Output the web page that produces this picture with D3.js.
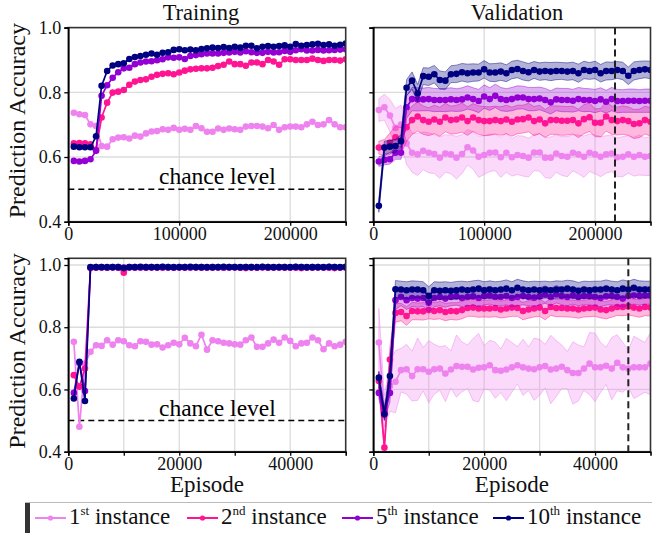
<!DOCTYPE html>
<html>
<head>
<meta charset="utf-8">
<script src="https://cdn.jsdelivr.net/npm/d3@7"></script>
<style>
  body { margin: 0; background: #fff; }
  svg, svg text { font-family: "Liberation Serif", "Times New Roman", serif; }
</style>
</head>
<body>
<svg id="chart" width="652" height="533"></svg>
<script>
// series order: 1st, 2nd, 5th, 10th instance
var seriesNames = ["1", "2", "5", "10"];
var seriesSup = ["st", "nd", "th", "th"];
var seriesColors = ["violet", "deeppink", "darkviolet", "navy"];

var longEpisodes = d3.range(5000, 250001, 5000);
var shortEpisodes = d3.range(1000, 50001, 1000);

// training, long run (top left)
var trainLong1 = [0.737,0.732,0.730,0.701,0.696,0.634,0.632,0.655,0.660,0.661,0.657,0.666,0.663,0.673,0.679,0.680,0.686,0.684,0.690,0.684,0.687,0.684,0.696,0.689,0.678,0.678,0.688,0.684,0.688,0.686,0.684,0.694,0.696,0.696,0.694,0.689,0.699,0.684,0.692,0.694,0.694,0.692,0.701,0.709,0.699,0.701,0.714,0.701,0.692,0.692];
var trainLong2 = [0.642,0.643,0.642,0.639,0.622,0.722,0.768,0.799,0.802,0.807,0.823,0.833,0.838,0.840,0.848,0.854,0.857,0.859,0.856,0.861,0.867,0.871,0.873,0.874,0.874,0.876,0.881,0.885,0.895,0.887,0.887,0.882,0.892,0.892,0.887,0.900,0.895,0.885,0.902,0.902,0.900,0.900,0.900,0.904,0.900,0.897,0.900,0.900,0.898,0.902];
var trainLong5 = [0.588,0.586,0.588,0.593,0.619,0.789,0.822,0.845,0.862,0.874,0.876,0.887,0.892,0.895,0.896,0.899,0.902,0.908,0.907,0.908,0.903,0.912,0.915,0.918,0.920,0.920,0.920,0.922,0.923,0.925,0.923,0.927,0.924,0.922,0.922,0.925,0.923,0.924,0.928,0.925,0.930,0.933,0.929,0.929,0.931,0.929,0.930,0.931,0.932,0.933];
var trainLong10 = [0.632,0.630,0.630,0.630,0.664,0.820,0.866,0.883,0.887,0.890,0.903,0.909,0.912,0.916,0.920,0.916,0.922,0.924,0.931,0.933,0.930,0.932,0.930,0.934,0.936,0.938,0.937,0.940,0.937,0.941,0.938,0.944,0.944,0.936,0.941,0.943,0.941,0.943,0.945,0.941,0.949,0.944,0.946,0.948,0.950,0.946,0.948,0.944,0.947,0.951];

// validation, long run (top right), mean and spread
var valLong1 = [0.745,0.754,0.728,0.690,0.700,0.642,0.613,0.608,0.619,0.613,0.609,0.598,0.611,0.608,0.598,0.609,0.630,0.620,0.601,0.606,0.613,0.614,0.599,0.613,0.599,0.606,0.603,0.598,0.614,0.614,0.598,0.598,0.611,0.603,0.601,0.613,0.608,0.601,0.613,0.608,0.601,0.608,0.611,0.599,0.601,0.608,0.601,0.606,0.601,0.603];
var valLong2 = [0.629,0.629,0.644,0.661,0.650,0.692,0.714,0.725,0.714,0.709,0.716,0.709,0.722,0.714,0.716,0.722,0.711,0.722,0.714,0.711,0.711,0.714,0.711,0.716,0.709,0.716,0.717,0.722,0.711,0.716,0.704,0.714,0.714,0.712,0.712,0.714,0.704,0.717,0.723,0.706,0.706,0.725,0.714,0.711,0.714,0.711,0.702,0.704,0.714,0.709];
var valLong5 = [0.586,0.591,0.593,0.613,0.613,0.754,0.779,0.778,0.778,0.779,0.776,0.776,0.776,0.778,0.776,0.778,0.784,0.779,0.773,0.787,0.779,0.789,0.779,0.776,0.779,0.784,0.784,0.779,0.779,0.781,0.776,0.769,0.778,0.776,0.776,0.774,0.779,0.776,0.776,0.773,0.778,0.771,0.779,0.773,0.773,0.774,0.774,0.773,0.774,0.774];
var valLong10 = [0.449,0.629,0.632,0.634,0.649,0.814,0.836,0.797,0.850,0.848,0.856,0.838,0.836,0.856,0.857,0.862,0.859,0.861,0.861,0.871,0.861,0.861,0.864,0.859,0.869,0.872,0.866,0.862,0.869,0.864,0.866,0.864,0.866,0.866,0.864,0.866,0.859,0.869,0.866,0.869,0.859,0.866,0.866,0.869,0.866,0.851,0.866,0.869,0.871,0.869];
var valLongStd1 = [0.035,0.040,0.050,0.060,0.060,0.065,0.060,0.065,0.058,0.062,0.060,0.064,0.058,0.060,0.066,0.060,0.055,0.058,0.064,0.060,0.058,0.056,0.062,0.060,0.058,0.060,0.062,0.060,0.056,0.058,0.062,0.064,0.058,0.060,0.062,0.056,0.060,0.064,0.058,0.060,0.062,0.058,0.056,0.060,0.062,0.058,0.060,0.062,0.058,0.060];
var valLongStd2 = [0.020,0.025,0.030,0.035,0.040,0.044,0.044,0.045,0.044,0.043,0.044,0.045,0.044,0.043,0.044,0.045,0.044,0.043,0.044,0.045,0.044,0.043,0.044,0.044,0.045,0.044,0.043,0.044,0.045,0.044,0.043,0.044,0.044,0.045,0.044,0.043,0.044,0.045,0.044,0.043,0.044,0.045,0.044,0.043,0.044,0.044,0.045,0.044,0.043,0.044];
var valLongStd5 = [0.015,0.015,0.015,0.020,0.020,0.035,0.036,0.036,0.035,0.036,0.036,0.035,0.036,0.036,0.035,0.036,0.036,0.035,0.036,0.036,0.035,0.036,0.036,0.035,0.036,0.036,0.035,0.036,0.036,0.035,0.036,0.036,0.035,0.036,0.036,0.035,0.036,0.036,0.035,0.036,0.036,0.035,0.036,0.036,0.035,0.036,0.036,0.035,0.036,0.036];
var valLongStd10 = [0.020,0.020,0.020,0.020,0.020,0.025,0.027,0.027,0.026,0.027,0.027,0.028,0.027,0.026,0.027,0.027,0.028,0.027,0.026,0.027,0.027,0.028,0.027,0.026,0.027,0.027,0.028,0.027,0.026,0.027,0.027,0.028,0.027,0.026,0.027,0.027,0.028,0.027,0.026,0.027,0.027,0.028,0.027,0.026,0.027,0.027,0.028,0.027,0.026,0.027];

// training, short run (bottom left)
var trainShort1 = [0.753,0.480,0.683,0.721,0.742,0.740,0.758,0.744,0.758,0.755,0.742,0.739,0.755,0.753,0.744,0.745,0.735,0.742,0.750,0.745,0.766,0.748,0.739,0.776,0.728,0.758,0.755,0.750,0.748,0.745,0.744,0.758,0.767,0.737,0.737,0.748,0.760,0.750,0.767,0.756,0.739,0.748,0.750,0.767,0.758,0.729,0.748,0.739,0.744,0.753];
var trainShort2 = [0.646,0.609,0.667,0.990,0.991,0.992,0.991,0.992,0.991,0.975,0.992,0.991,0.992,0.991,0.992,0.992,0.991,0.992,0.991,0.992,0.991,0.992,0.992,0.991,0.992,0.991,0.992,0.991,0.992,0.992,0.991,0.990,0.992,0.991,0.992,0.991,0.992,0.992,0.991,0.992,0.991,0.990,0.992,0.991,0.992,0.992,0.991,0.990,0.992,0.991];
var trainShort5 = [0.589,0.685,0.595,0.992,0.993,0.993,0.992,0.993,0.993,0.992,0.993,0.993,0.992,0.993,0.993,0.992,0.993,0.993,0.992,0.993,0.993,0.992,0.993,0.993,0.992,0.993,0.993,0.992,0.993,0.993,0.992,0.993,0.993,0.992,0.993,0.993,0.992,0.993,0.993,0.992,0.993,0.993,0.992,0.993,0.993,0.992,0.993,0.993,0.992,0.993];
var trainShort10 = [0.571,0.689,0.563,0.993,0.993,0.993,0.993,0.993,0.993,0.990,0.993,0.993,0.994,0.993,0.993,0.993,0.994,0.993,0.993,0.993,0.993,0.994,0.993,0.993,0.993,0.993,0.993,0.994,0.993,0.993,0.993,0.993,0.993,0.993,0.994,0.993,0.993,0.993,0.993,0.993,0.994,0.993,0.993,0.993,0.993,0.993,0.994,0.993,0.993,0.994];

// validation, short run (bottom right), mean and spread
var valShort1 = [0.751,0.530,0.610,0.625,0.662,0.665,0.643,0.665,0.665,0.657,0.665,0.667,0.651,0.664,0.675,0.673,0.673,0.664,0.670,0.671,0.678,0.662,0.660,0.664,0.671,0.678,0.671,0.667,0.665,0.671,0.675,0.664,0.667,0.673,0.662,0.653,0.653,0.667,0.683,0.671,0.671,0.676,0.667,0.686,0.671,0.667,0.671,0.671,0.671,0.683];
var valShort2 = [0.627,0.413,0.696,0.846,0.849,0.836,0.852,0.851,0.851,0.855,0.852,0.855,0.849,0.852,0.851,0.855,0.862,0.863,0.860,0.860,0.860,0.862,0.857,0.860,0.863,0.862,0.852,0.857,0.860,0.863,0.852,0.865,0.862,0.862,0.860,0.860,0.857,0.860,0.862,0.863,0.857,0.855,0.860,0.865,0.865,0.867,0.863,0.860,0.865,0.863];
var valShort5 = [0.589,0.523,0.589,0.887,0.897,0.887,0.894,0.892,0.894,0.879,0.894,0.897,0.892,0.897,0.899,0.894,0.897,0.899,0.894,0.900,0.902,0.897,0.897,0.900,0.894,0.897,0.900,0.897,0.895,0.899,0.905,0.897,0.906,0.900,0.897,0.902,0.897,0.900,0.900,0.897,0.894,0.899,0.900,0.897,0.892,0.900,0.902,0.900,0.902,0.902];
var valShort10 = [0.638,0.520,0.643,0.922,0.921,0.919,0.921,0.921,0.919,0.900,0.919,0.917,0.919,0.917,0.919,0.921,0.919,0.921,0.924,0.919,0.921,0.919,0.921,0.924,0.919,0.927,0.921,0.919,0.921,0.919,0.921,0.919,0.921,0.921,0.924,0.921,0.917,0.921,0.919,0.921,0.921,0.924,0.921,0.919,0.924,0.921,0.927,0.921,0.921,0.921];
var valShortStd1 = [0.110,0.050,0.080,0.100,0.070,0.080,0.080,0.100,0.070,0.100,0.080,0.070,0.090,0.060,0.100,0.080,0.070,0.100,0.110,0.070,0.080,0.090,0.070,0.100,0.080,0.060,0.090,0.070,0.100,0.090,0.070,0.110,0.090,0.070,0.060,0.100,0.090,0.070,0.100,0.110,0.080,0.060,0.100,0.090,0.080,0.060,0.100,0.090,0.080,0.100];
var valShortStd2 = [0.030,0.010,0.040,0.030,0.028,0.030,0.028,0.027,0.028,0.028,0.027,0.028,0.028,0.027,0.028,0.028,0.027,0.028,0.028,0.027,0.028,0.028,0.027,0.028,0.028,0.027,0.028,0.028,0.027,0.028,0.028,0.027,0.028,0.028,0.027,0.028,0.028,0.027,0.028,0.028,0.027,0.028,0.028,0.027,0.028,0.028,0.027,0.028,0.028,0.027];
var valShortStd5 = [0.020,0.020,0.030,0.030,0.028,0.030,0.028,0.028,0.028,0.030,0.028,0.028,0.028,0.028,0.028,0.028,0.028,0.028,0.028,0.028,0.028,0.028,0.028,0.028,0.028,0.028,0.028,0.028,0.028,0.028,0.028,0.028,0.028,0.028,0.028,0.028,0.028,0.028,0.028,0.028,0.028,0.028,0.028,0.028,0.028,0.028,0.028,0.028,0.028,0.028];
var valShortStd10 = [0.020,0.020,0.030,0.028,0.027,0.027,0.028,0.027,0.027,0.030,0.027,0.028,0.027,0.027,0.028,0.027,0.027,0.028,0.027,0.027,0.028,0.027,0.027,0.028,0.027,0.027,0.028,0.027,0.027,0.028,0.027,0.027,0.028,0.027,0.027,0.028,0.027,0.027,0.028,0.027,0.027,0.028,0.027,0.027,0.028,0.027,0.027,0.028,0.027,0.027];

var yTicks = [0.4, 0.6, 0.8, 1.0];
var longXTicks = [0, 100000, 200000];
var shortXTicks = [0, 10000, 20000, 30000, 40000];
var shortXLabels = [0, 20000, 40000];

var serif = "Liberation Serif, Times New Roman, serif";

var panels = [
  { left: 68.3, top: 27.6, width: 277.4, height: 194.1, xMax: 250000, yMax: 1.0,
    episodes: longEpisodes, series: [trainLong1, trainLong2, trainLong5, trainLong10],
    xTicks: longXTicks, xLabels: longXTicks, yLabels: true, chance: true, title: "Training", titleX: 201 },
  { left: 373.3, top: 27.6, width: 277.2, height: 194.1, xMax: 250000, yMax: 1.0,
    episodes: longEpisodes, series: [valLong1, valLong2, valLong5, valLong10],
    spread: [valLongStd1, valLongStd2, valLongStd5, valLongStd10],
    xTicks: longXTicks, xLabels: longXTicks, yLabels: false, best: 218000, title: "Validation", titleX: 517 },
  { left: 68.3, top: 258.3, width: 277.4, height: 193.4, xMax: 50000, yMax: 1.0215,
    episodes: shortEpisodes, series: [trainShort1, trainShort2, trainShort5, trainShort10],
    xTicks: shortXTicks, xLabels: shortXLabels, yLabels: true, chance: true, xTitle: true },
  { left: 373.3, top: 258.3, width: 277.2, height: 193.4, xMax: 50000, yMax: 1.0215,
    episodes: shortEpisodes, series: [valShort1, valShort2, valShort5, valShort10],
    spread: [valShortStd1, valShortStd2, valShortStd5, valShortStd10],
    xTicks: shortXTicks, xLabels: shortXLabels, yLabels: false, best: 46000, xTitle: true }
];

var svg = d3.select("#chart");

panels.forEach(function (p, pi) {
  var g = svg.append("g").attr("transform", "translate(" + p.left + "," + p.top + ")");
  var x = d3.scaleLinear().domain([0, p.xMax]).range([0, p.width]);
  var y = d3.scaleLinear().domain([0.4, p.yMax]).range([p.height, 0]);

  var clipId = "clip" + pi;
  g.append("clipPath").attr("id", clipId)
    .append("rect").attr("width", p.width).attr("height", p.height);

  // grid
  g.append("g").selectAll("line.gy").data(yTicks).enter().append("line")
    .attr("x1", 0).attr("x2", p.width)
    .attr("y1", function (d) { return y(d); }).attr("y2", function (d) { return y(d); })
    .attr("stroke", "#dcdcdc").attr("stroke-width", 1.3);
  g.append("g").selectAll("line.gx").data(p.xTicks.filter(function (d) { return d > 0; })).enter().append("line")
    .attr("y1", 0).attr("y2", p.height)
    .attr("x1", function (d) { return x(d); }).attr("x2", function (d) { return x(d); })
    .attr("stroke", "#dcdcdc").attr("stroke-width", 1.3);

  var plot = g.append("g").attr("clip-path", "url(#" + clipId + ")");

  if (p.chance) {
    plot.append("line")
      .attr("x1", 0).attr("x2", p.width)
      .attr("y1", y(0.5)).attr("y2", y(0.5))
      .attr("stroke", "#000").attr("stroke-width", 1.5)
      .attr("stroke-dasharray", "6,4");
    g.append("text")
      .attr("x", p.width * 0.327).attr("y", y(0.5) - 5)
      .attr("font-family", serif).attr("font-size", "23.5px").attr("fill", "#000")
      .text("chance level");
  }

  p.series.forEach(function (vals, si) {
    var col = seriesColors[si];
    if (p.spread) {
      var sd = p.spread[si];
      var area = d3.area()
        .x(function (d, i) { return x(p.episodes[i]); })
        .y0(function (d, i) { return y(d - sd[i]); })
        .y1(function (d, i) { return y(d + sd[i]); });
      plot.append("path").datum(vals)
        .attr("d", area)
        .attr("fill", col).attr("fill-opacity", 0.3)
        .attr("stroke", col).attr("stroke-opacity", 0.45).attr("stroke-width", 1);
    }
    var line = d3.line()
      .x(function (d, i) { return x(p.episodes[i]); })
      .y(function (d) { return y(d); });
    plot.append("path").datum(vals)
      .attr("d", line)
      .attr("fill", "none").attr("stroke", col).attr("stroke-width", 1.7);
    plot.append("g").selectAll("circle").data(vals).enter().append("circle")
      .attr("cx", function (d, i) { return x(p.episodes[i]); })
      .attr("cy", function (d) { return y(d); })
      .attr("r", 3.3)
      .attr("fill", col);
  });

  if (p.best) {
    plot.append("line")
      .attr("x1", x(p.best)).attr("x2", x(p.best))
      .attr("y1", 0).attr("y2", p.height)
      .attr("stroke", "#222").attr("stroke-width", 2)
      .attr("stroke-dasharray", "7,4");
  }

  // frame
  g.append("rect").attr("width", p.width).attr("height", p.height)
    .attr("fill", "none").attr("stroke", "#333").attr("stroke-width", 1.6);

  // axes
  var yAxis = d3.axisLeft(y).tickValues(yTicks).tickSize(4).tickPadding(3)
    .tickFormat(p.yLabels ? d3.format(".1f") : function () { return ""; });
  var ya = g.append("g").call(yAxis);
  var xAxis = d3.axisBottom(x).tickValues(p.xTicks).tickSize(4).tickPadding(2)
    .tickFormat(function (d) { return p.xLabels.indexOf(d) >= 0 ? d : ""; });
  var xa = g.append("g").attr("transform", "translate(0," + p.height + ")").call(xAxis);
  [ya, xa].forEach(function (a) {
    a.attr("font-family", serif);
    a.select(".domain").attr("stroke", "#000").attr("stroke-width", 1.6);
    a.selectAll(".tick line").attr("stroke", "#000").attr("stroke-width", 1.3);
    a.selectAll(".tick text").attr("font-family", serif)
      .attr("font-size", "18px").attr("fill", "#111");
  });

  if (p.title) {
    svg.append("text").attr("x", p.titleX).attr("y", 20)
      .attr("text-anchor", "middle").attr("font-family", serif)
      .attr("font-size", "22.5px").attr("fill", "#111")
      .text(p.title);
  }
  if (p.xTitle) {
    svg.append("text").attr("x", p.left + p.width / 2).attr("y", 492)
      .attr("text-anchor", "middle").attr("font-family", serif)
      .attr("font-size", "23px").attr("fill", "#111")
      .text("Episode");
  }
  if (p.yLabels) {
    svg.append("text")
      .attr("transform", "translate(25," + (p.top + p.height / 2 - 4) + ") rotate(-90)")
      .attr("text-anchor", "middle").attr("font-family", serif)
      .attr("font-size", "24px").attr("fill", "#111")
      .text("Prediction Accuracy");
  }
});

// legend
var legend = svg.append("g").attr("font-family", serif);
legend.append("line").attr("x1", 25).attr("x2", 652).attr("y1", 502.5).attr("y2", 502.5)
  .attr("stroke", "#bbb").attr("stroke-width", 1.2);
legend.append("rect").attr("x", 25).attr("y", 503).attr("width", 5).attr("height", 30)
  .attr("fill", "#333");
var legendX = [35, 187, 342, 493];
seriesNames.forEach(function (name, si) {
  var lx = legendX[si];
  var col = seriesColors[si];
  legend.append("line").attr("x1", lx).attr("x2", lx + 31).attr("y1", 518).attr("y2", 518)
    .attr("stroke", col).attr("stroke-width", 2);
  legend.append("circle").attr("cx", lx + 15.5).attr("cy", 518).attr("r", 2.6).attr("fill", col);
  var t = legend.append("text").attr("x", lx + 34).attr("y", 524)
    .attr("font-size", "23px").attr("fill", "#111");
  t.append("tspan").text(name);
  t.append("tspan").attr("font-size", "13px").attr("dy", -9).text(seriesSup[si]);
  t.append("tspan").attr("dy", 9).text(" instance");
});
</script>
</body>
</html>
